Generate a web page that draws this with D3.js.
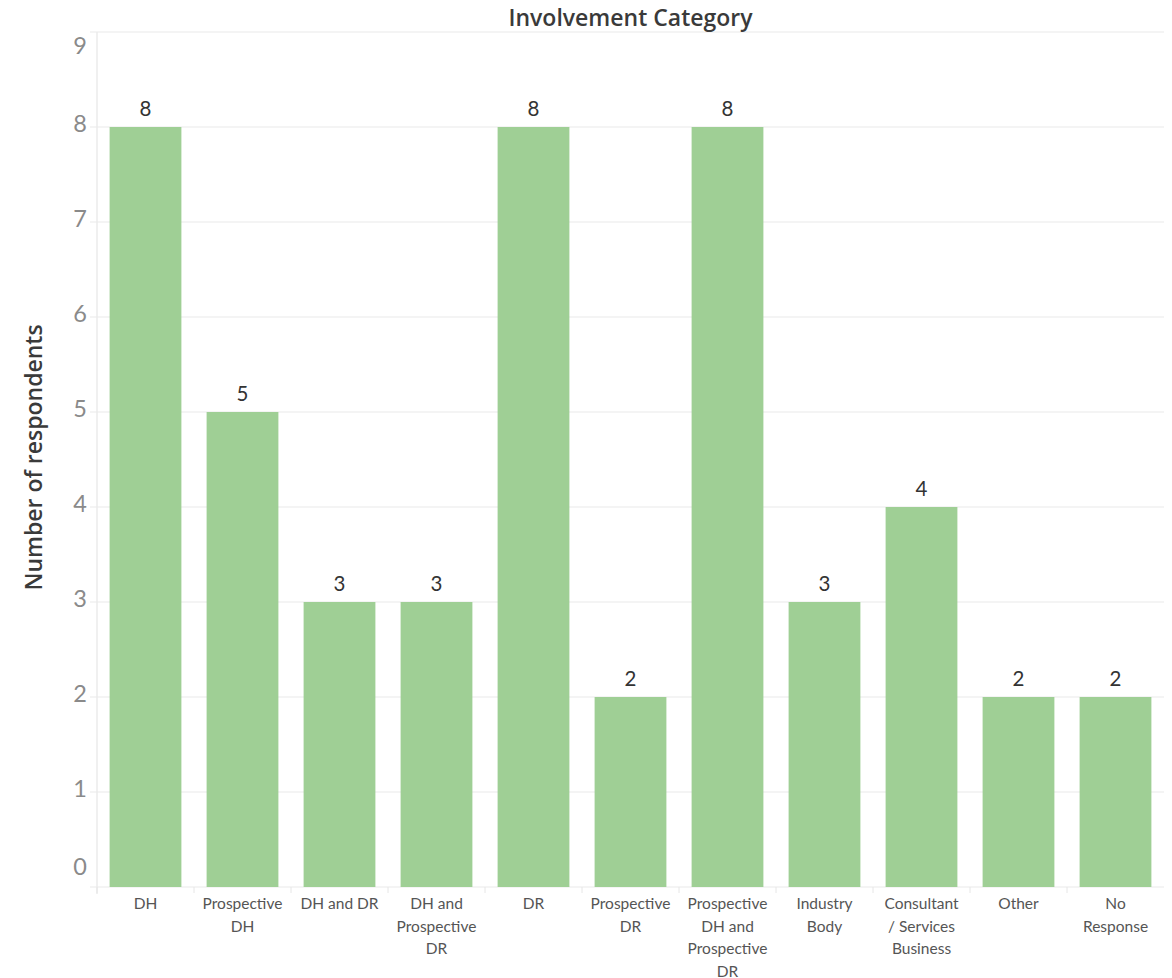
<!DOCTYPE html>
<html>
<head>
<meta charset="utf-8">
<script src="https://cdn.jsdelivr.net/npm/d3@7"></script>
<style>
  body { margin: 0; background: #fff; }
  svg { font-family: Lato, "Open Sans", sans-serif; }
</style>
</head>
<body>
<svg id="chart" width="1172" height="978"></svg>
<script>
const categories = [
  ['DH'],
  ['Prospective', 'DH'],
  ['DH and DR'],
  ['DH and', 'Prospective', 'DR'],
  ['DR'],
  ['Prospective', 'DR'],
  ['Prospective', 'DH and', 'Prospective', 'DR'],
  ['Industry', 'Body'],
  ['Consultant', '/ Services', 'Business'],
  ['Other'],
  ['No', 'Response'],
];
const counts = [8, 5, 3, 3, 8, 2, 8, 3, 4, 2, 2];
const yTicks = [0, 1, 2, 3, 4, 5, 6, 7, 8, 9];

const svg = d3.select('#chart');
const plotLeft = 97, plotRight = 1164, plotTop = 32, plotBottom = 887;

const x = d3.scaleBand()
  .domain(d3.range(counts.length))
  .range([plotLeft, plotRight])
  .paddingInner(0.26)
  .paddingOuter(0.13);

const y = d3.scaleLinear().domain([0, 9]).range([plotBottom, plotTop]);

// gridlines
svg.append('g')
  .selectAll('line')
  .data(yTicks)
  .join('line')
  .attr('x1', plotLeft - 7)
  .attr('x2', plotRight)
  .attr('y1', (d) => y(d))
  .attr('y2', (d) => y(d))
  .attr('stroke', '#f0f0f0')
  .attr('stroke-width', 1.5);

// left axis line
svg.append('line')
  .attr('x1', plotLeft).attr('x2', plotLeft)
  .attr('y1', plotTop).attr('y2', plotBottom + 7)
  .attr('stroke', '#ebebeb').attr('stroke-width', 1.5);

// band separators under the axis
const step = x.step();
svg.append('g')
  .selectAll('line')
  .data(d3.range(counts.length))
  .join('line')
  .attr('x1', (i) => plotLeft + i * step)
  .attr('x2', (i) => plotLeft + i * step)
  .attr('y1', plotBottom)
  .attr('y2', plotBottom + 6)
  .attr('stroke', '#e6e6e6');

// y tick labels (end labels pushed inside the plot, like tableau does)
svg.append('g')
  .selectAll('text')
  .data(yTicks)
  .join('text')
  .attr('x', 87)
  .attr('y', (d) => Math.max(plotTop + 17, Math.min(plotBottom - 17, y(d))))
  .attr('dy', '-0.05em')
  .attr('text-anchor', 'end')
  .attr('dominant-baseline', 'middle')
  .attr('font-size', 23.5)
  .attr('fill', '#8a8a8a')
  .text((d) => d);

// bars
svg.append('g')
  .selectAll('rect')
  .data(counts)
  .join('rect')
  .attr('x', (d, i) => x(i))
  .attr('width', x.bandwidth())
  .attr('y', (d) => y(d))
  .attr('height', (d) => y(0) - y(d))
  .attr('fill', '#9fcf95');

// value labels
svg.append('g')
  .selectAll('text')
  .data(counts)
  .join('text')
  .attr('x', (d, i) => x(i) + x.bandwidth() / 2)
  .attr('y', (d) => y(d) - 11)
  .attr('text-anchor', 'middle')
  .attr('font-size', 20.5)
  .attr('fill', '#333')
  .text((d) => d);

// category labels
const xl = svg.append('g')
  .selectAll('text')
  .data(categories)
  .join('text')
  .attr('x', (d, i) => x(i) + x.bandwidth() / 2)
  .attr('y', 909)
  .attr('text-anchor', 'middle')
  .attr('font-size', 15.5)
  .attr('fill', '#555');
xl.selectAll('tspan')
  .data((d) => d)
  .join('tspan')
  .attr('x', function () { return d3.select(this.parentNode).attr('x'); })
  .attr('dy', (d, i) => (i === 0 ? 0 : 22.5))
  .text((d) => d);

// title
svg.append('text')
  .attr('x', (plotLeft + plotRight) / 2)
  .attr('y', 26)
  .attr('text-anchor', 'middle')
  .attr('font-family', '"Open Sans", sans-serif')
  .attr('font-size', 23)
  .attr('font-weight', 600)
  .attr('fill', '#3a3a3a')
  .text('Involvement Category');

// y axis title
svg.append('text')
  .attr('transform', `translate(42,${(plotTop + plotBottom) / 2 - 2}) rotate(-90)`)
  .attr('text-anchor', 'middle')
  .attr('font-family', '"Open Sans", sans-serif')
  .attr('font-size', 23)
  .attr('font-weight', 600)
  .attr('fill', '#3a3a3a')
  .text('Number of respondents');
</script>
</body>
</html>
